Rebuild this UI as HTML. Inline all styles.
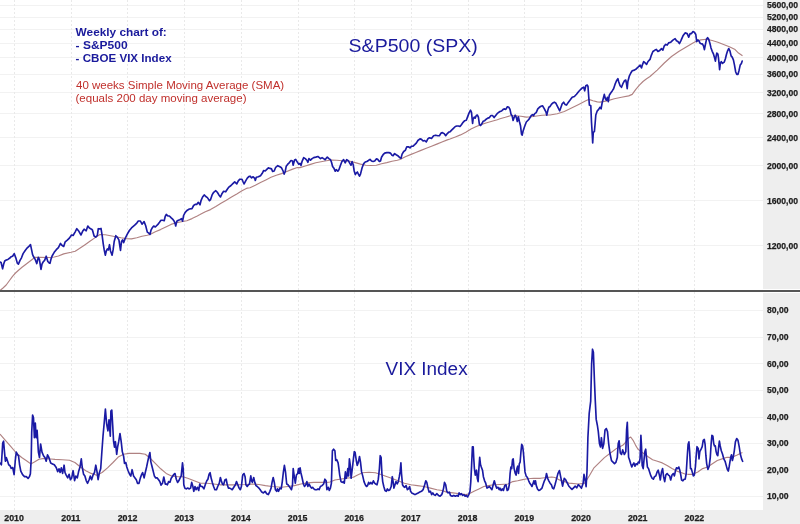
<!DOCTYPE html>
<html><head><meta charset="utf-8"><title>S&amp;P500 and VIX weekly chart</title>
<style>html,body{margin:0;padding:0;background:#fff;}svg{display:block;font-family:"Liberation Sans",sans-serif;will-change:transform;}</style>
</head><body>
<svg width="800" height="524" viewBox="0 0 800 524">
<rect x="0" y="0" width="800" height="524" fill="#ffffff"/>
<rect x="763" y="0" width="37" height="524" fill="#eeeeee"/>
<rect x="0" y="510" width="800" height="14" fill="#eeeeee"/>
<g stroke="#f2f2f2" stroke-width="1"><line x1="0" y1="5.5" x2="763" y2="5.5"/><line x1="0" y1="17.5" x2="763" y2="17.5"/><line x1="0" y1="29.5" x2="763" y2="29.5"/><line x1="0" y1="43.5" x2="763" y2="43.5"/><line x1="0" y1="57.5" x2="763" y2="57.5"/><line x1="0" y1="74.5" x2="763" y2="74.5"/><line x1="0" y1="92.5" x2="763" y2="92.5"/><line x1="0" y1="113.5" x2="763" y2="113.5"/><line x1="0" y1="137.5" x2="763" y2="137.5"/><line x1="0" y1="165.5" x2="763" y2="165.5"/><line x1="0" y1="200.5" x2="763" y2="200.5"/><line x1="0" y1="245.5" x2="763" y2="245.5"/><line x1="0" y1="310.5" x2="763" y2="310.5"/><line x1="0" y1="337.5" x2="763" y2="337.5"/><line x1="0" y1="363.5" x2="763" y2="363.5"/><line x1="0" y1="390.5" x2="763" y2="390.5"/><line x1="0" y1="417.5" x2="763" y2="417.5"/><line x1="0" y1="443.5" x2="763" y2="443.5"/><line x1="0" y1="470.5" x2="763" y2="470.5"/><line x1="0" y1="496.5" x2="763" y2="496.5"/></g>
<g stroke="#e9e9e9" stroke-width="1" stroke-dasharray="2,2"><line x1="14.5" y1="0" x2="14.5" y2="510"/><line x1="71.5" y1="0" x2="71.5" y2="510"/><line x1="127.5" y1="0" x2="127.5" y2="510"/><line x1="184.5" y1="0" x2="184.5" y2="510"/><line x1="241.5" y1="0" x2="241.5" y2="510"/><line x1="298.5" y1="0" x2="298.5" y2="510"/><line x1="354.5" y1="0" x2="354.5" y2="510"/><line x1="411.5" y1="0" x2="411.5" y2="510"/><line x1="468.5" y1="0" x2="468.5" y2="510"/><line x1="524.5" y1="0" x2="524.5" y2="510"/><line x1="581.5" y1="0" x2="581.5" y2="510"/><line x1="638.5" y1="0" x2="638.5" y2="510"/><line x1="694.5" y1="0" x2="694.5" y2="510"/></g>
<polyline fill="none" stroke="#b08282" stroke-width="1.15" stroke-linejoin="round" points="0.0,290.5 3.0,288.0 6.2,285.0 9.5,280.5 12.5,276.3 15.5,273.0 18.8,270.0 22.0,267.3 25.0,265.0 31.5,260.0 35.0,257.3 40.0,257.3 50.0,257.5 54.2,257.0 58.4,256.0 63.7,253.9 71.0,252.3 75.2,251.2 79.4,248.6 84.7,245.0 89.9,241.3 95.2,237.6 100.0,234.6 105.3,234.7 110.5,235.7 115.8,236.8 121.0,237.8 126.3,238.6 131.5,238.9 136.8,237.8 142.0,236.3 147.3,235.2 150.0,234.5 155.3,231.7 160.5,229.6 165.8,227.0 171.0,224.4 176.3,222.8 181.5,221.8 186.8,220.7 192.0,218.6 197.3,216.0 200.0,214.6 205.3,211.7 210.5,209.6 215.8,206.5 221.0,203.3 226.3,200.2 231.5,197.0 236.8,193.9 242.0,190.7 247.3,188.1 250.0,187.7 255.3,185.2 260.5,182.5 265.8,179.9 271.0,177.3 276.3,175.2 281.5,173.6 286.8,171.5 292.0,169.4 297.3,167.5 300.0,167.6 305.3,166.0 310.5,164.4 315.8,162.8 321.0,161.8 326.3,160.7 331.5,160.0 336.8,160.2 342.0,160.7 347.3,160.9 350.0,161.2 355.3,162.6 360.5,164.1 365.8,165.2 371.0,165.5 376.3,165.2 381.5,163.8 386.8,162.6 392.0,161.3 397.3,160.3 400.0,159.5 405.3,156.7 410.5,154.6 415.8,152.5 421.0,150.4 426.3,148.3 431.5,146.2 436.8,144.1 442.0,142.0 447.3,139.9 450.0,139.0 455.3,137.0 460.5,134.9 465.8,132.3 471.0,129.1 476.3,126.5 481.5,124.4 486.8,122.8 492.0,121.3 497.3,119.7 500.0,118.8 505.3,117.3 510.5,115.7 515.8,115.7 521.0,116.3 526.3,117.1 531.5,116.8 536.8,116.0 542.0,115.2 547.3,115.0 550.0,115.0 557.2,113.7 564.3,111.5 571.5,108.0 578.7,104.4 585.8,100.8 588.7,99.4 593.0,100.8 597.3,101.9 600.0,102.1 607.2,100.9 614.3,98.7 621.5,97.3 628.7,95.9 632.2,94.4 635.8,89.4 639.4,85.1 643.0,81.5 646.6,78.7 650.0,76.5 657.2,70.1 664.3,63.0 671.5,56.5 678.7,51.5 685.8,47.2 693.0,42.9 695.8,41.5 700.7,39.9 706.5,39.3 712.2,40.5 717.9,42.2 723.6,44.5 729.4,46.8 735.1,49.6 738.5,53.1 742.5,55.7"/>
<polyline fill="none" stroke="#b08282" stroke-width="1.15" stroke-linejoin="round" points="0.0,434.0 5.4,440.3 10.9,446.7 16.3,453.0 21.7,457.5 27.2,461.2 30.8,463.9 34.4,462.1 39.0,459.3 44.4,458.4 50.7,459.0 55.0,459.4 62.2,459.8 69.5,460.3 74.9,462.5 80.4,467.0 85.8,470.7 91.2,473.4 96.7,475.2 102.1,472.5 107.5,467.9 113.0,462.5 118.2,457.1 123.6,454.3 129.0,453.4 134.5,453.4 139.9,453.4 145.3,454.3 149.9,458.0 155.3,463.4 160.7,468.8 166.2,473.4 171.5,475.9 178.0,476.7 182.8,476.7 187.7,478.3 194.2,480.8 200.7,483.2 207.1,483.2 213.6,484.0 220.1,484.8 226.5,484.8 233.0,484.8 239.4,484.8 245.9,484.5 252.4,484.0 258.9,484.5 265.4,485.6 271.9,486.5 281.5,487.3 288.0,486.5 294.4,485.6 300.9,484.0 307.4,482.9 313.9,482.4 320.4,482.4 326.9,482.4 330.0,482.0 334.9,480.0 339.7,479.2 346.2,478.3 352.7,477.5 357.6,475.1 362.4,472.7 368.9,472.2 375.4,472.7 380.2,474.3 385.1,476.0 391.5,478.3 398.0,480.8 404.4,483.2 410.9,484.8 417.4,485.6 423.9,486.5 430.4,488.1 436.9,489.7 442.0,490.5 446.5,492.1 453.0,492.9 459.4,493.7 465.9,494.6 469.2,493.7 474.0,491.3 478.9,488.9 483.8,486.5 488.6,485.6 493.5,484.8 500.0,484.5 508.0,484.0 512.8,481.6 517.7,480.8 522.6,479.6 527.4,478.7 533.9,478.3 540.4,478.3 546.9,477.5 551.7,477.0 555.0,477.5 559.4,479.9 568.9,483.1 578.3,484.0 584.6,483.3 589.2,476.0 593.7,468.2 598.3,463.7 604.4,457.6 610.5,453.0 616.6,448.4 622.7,445.3 625.0,443.0 628.2,438.6 630.7,437.0 633.1,440.3 635.5,445.1 638.0,449.2 641.2,451.6 644.4,454.0 647.7,456.5 652.6,459.7 657.4,461.3 662.3,462.9 667.1,465.4 672.0,468.6 676.9,471.1 681.7,472.7 685.0,474.0 688.1,474.3 693.0,474.3 697.8,471.9 702.7,468.6 707.6,467.0 712.4,463.8 717.3,460.5 722.1,458.9 727.0,457.3 731.9,457.3 736.7,455.3 742.4,452.4"/>
<polyline fill="none" stroke="#1a1aa4" stroke-width="1.65" stroke-linejoin="round" stroke-linecap="round" points="0.0,262.0 1.1,262.5 2.6,268.8 3.7,264.1 4.7,261.0 6.3,260.0 7.9,259.4 9.5,258.3 11.0,256.8 12.6,256.2 14.2,253.6 15.8,257.8 17.3,263.1 18.4,264.1 20.0,260.4 21.5,257.8 23.1,253.6 25.2,250.5 27.3,247.8 28.9,246.3 30.5,244.7 31.5,249.4 32.6,254.7 33.6,256.8 35.2,259.4 36.8,263.6 38.3,257.3 39.4,259.4 41.0,269.4 42.0,264.1 43.1,262.0 44.6,260.4 46.2,256.2 47.8,261.5 49.4,263.1 50.0,263.3 51.0,259.1 52.1,256.0 54.2,252.3 56.3,249.7 58.4,247.6 60.5,243.4 61.6,245.0 63.7,246.5 65.2,241.8 67.3,240.2 69.4,238.1 71.5,235.0 73.1,235.5 75.2,231.8 76.8,228.7 78.9,231.3 81.0,235.0 82.6,231.3 84.1,229.2 86.2,230.8 87.8,226.0 89.4,228.1 91.5,229.2 92.5,230.2 94.1,236.0 95.7,237.1 97.3,235.5 98.3,228.7 100.0,228.9 101.0,228.4 102.1,235.2 103.2,243.6 104.2,249.9 105.3,255.2 106.3,251.0 107.4,248.9 108.4,249.9 109.5,244.7 110.5,251.0 112.1,255.2 113.1,249.9 114.2,241.5 115.8,235.7 117.3,237.3 118.9,239.9 120.5,250.4 121.5,241.5 122.6,239.9 123.6,242.6 125.2,238.4 127.3,234.2 129.4,230.5 131.5,227.9 134.7,225.2 136.8,223.1 138.3,221.0 140.4,221.0 142.0,224.2 144.1,221.6 145.7,225.8 147.3,232.1 148.8,233.1 150.0,234.4 151.0,230.2 152.1,228.1 153.7,226.0 155.3,227.0 156.3,226.0 157.9,224.4 159.5,222.3 161.0,220.2 162.6,220.2 164.2,220.7 165.2,216.5 166.3,214.4 167.9,216.0 169.4,216.0 171.0,217.6 172.6,219.1 174.2,221.2 175.2,223.9 175.7,226.0 176.8,221.2 178.4,220.2 179.9,219.7 181.5,218.6 182.6,221.2 183.6,215.5 185.2,212.3 187.3,210.2 189.4,209.0 192.0,208.6 193.6,205.5 195.2,204.4 196.7,204.4 198.3,202.3 200.0,204.9 201.0,200.7 202.6,197.0 204.2,194.9 205.8,196.5 207.4,197.6 209.5,200.7 210.5,199.7 212.1,194.9 213.7,192.3 215.8,190.7 217.3,192.3 218.9,194.9 220.5,197.0 222.1,193.4 223.6,191.3 225.7,191.8 227.3,189.2 228.9,187.1 231.0,185.5 232.6,183.9 234.7,181.8 236.8,183.9 238.3,180.8 239.9,179.2 242.0,179.2 243.1,181.8 244.1,183.9 245.7,180.8 247.3,178.1 248.8,176.6 250.0,176.2 251.6,177.8 253.2,176.8 254.7,178.3 255.3,180.4 256.3,177.3 258.4,176.8 260.5,175.7 262.1,173.6 263.7,170.5 265.2,171.0 266.8,169.4 268.4,167.8 270.0,168.4 271.5,168.9 272.6,171.5 274.2,171.0 275.7,167.3 277.8,165.7 279.9,166.8 281.5,167.8 283.1,171.0 284.1,174.1 285.2,171.5 286.2,166.3 287.8,164.2 289.4,162.6 291.0,160.5 292.5,161.0 293.1,165.2 294.6,160.0 295.7,159.4 297.3,162.1 298.8,164.2 300.0,163.4 301.0,165.5 302.1,161.3 303.7,157.6 305.3,158.6 306.8,160.2 307.9,162.3 308.9,158.6 310.5,160.2 312.1,158.6 313.7,157.6 315.8,157.1 317.9,156.5 319.4,157.6 320.5,158.6 322.1,157.6 323.6,158.6 325.2,159.7 326.3,158.1 327.3,157.1 328.9,158.6 330.5,159.7 331.5,162.3 332.6,166.5 334.1,168.6 335.2,171.2 336.2,169.7 337.8,171.2 338.9,169.7 340.4,165.5 342.0,161.3 343.6,159.7 345.2,162.8 346.7,159.7 348.3,160.7 350.0,163.6 351.0,165.2 352.1,161.5 353.2,164.7 354.2,171.0 355.3,174.6 356.3,173.1 357.4,172.0 358.4,174.1 359.5,176.2 360.5,174.1 362.1,167.8 363.7,163.6 365.2,162.0 366.8,161.5 368.4,160.5 370.0,159.4 371.5,161.0 373.1,161.5 374.7,161.0 376.3,158.9 377.8,159.4 379.4,161.5 380.5,161.0 381.5,157.3 383.1,154.7 384.7,153.1 386.8,152.6 388.9,152.6 390.4,153.1 392.0,155.2 393.1,155.7 394.6,153.6 396.2,154.7 397.8,155.7 400.0,157.8 401.0,158.3 402.1,154.1 403.7,151.5 405.3,150.4 406.8,146.8 408.4,146.8 410.0,147.8 411.6,146.2 413.1,146.2 414.7,144.7 416.3,143.1 417.9,140.5 420.0,138.9 421.5,139.4 423.1,141.0 424.7,140.5 426.3,142.0 427.8,138.9 429.4,137.8 431.5,138.4 433.6,135.7 435.7,135.2 437.8,135.7 439.4,135.7 441.0,133.1 442.5,132.6 444.1,133.6 445.7,135.7 447.3,133.6 448.8,132.1 450.0,131.8 451.6,130.2 453.2,128.6 455.3,126.5 456.8,126.0 458.4,126.0 460.0,126.5 461.6,124.4 463.1,122.3 464.7,120.7 466.3,120.2 467.3,117.6 468.9,113.4 470.5,110.2 471.5,112.3 472.6,123.4 473.1,119.2 474.2,117.1 475.2,118.1 476.3,115.5 477.3,115.0 478.4,117.1 479.4,124.4 480.5,125.5 481.5,124.4 483.1,121.3 484.7,120.7 486.2,119.2 487.8,118.1 489.4,117.6 491.0,115.5 492.5,115.5 494.1,117.6 495.7,115.5 497.3,113.4 498.8,112.3 500.0,111.5 501.6,111.0 503.2,109.4 504.7,108.9 505.8,109.4 507.4,106.8 508.9,107.3 510.0,109.4 511.0,114.2 512.1,115.7 513.1,120.5 514.2,117.3 515.2,115.2 516.3,117.3 517.3,121.5 518.4,116.8 519.4,121.5 520.5,125.7 521.5,134.1 522.1,135.2 523.1,131.0 524.7,126.2 526.3,122.0 527.8,120.5 528.9,119.4 529.9,117.8 531.5,115.2 532.6,114.7 533.6,115.7 534.7,113.6 536.2,112.6 537.8,108.9 539.4,107.3 541.0,106.3 542.5,105.8 544.1,108.4 545.2,110.5 546.2,112.6 546.7,115.2 547.8,110.5 548.8,107.3 550.0,106.5 551.4,104.4 552.9,102.9 554.3,102.2 555.7,102.9 557.2,105.8 558.6,108.7 559.7,110.8 560.7,108.0 562.2,103.7 563.6,102.2 565.0,104.4 566.5,105.1 567.9,102.9 570.1,100.1 572.2,97.2 574.4,96.5 576.5,94.3 578.7,91.5 580.8,89.3 582.2,87.9 583.7,87.2 584.7,90.8 585.8,85.7 587.2,85.0 588.0,86.5 588.7,96.5 589.4,105.1 590.8,105.8 591.5,122.3 592.3,135.2 592.7,143.0 593.3,132.3 594.4,131.6 595.1,123.7 595.8,115.1 597.3,110.8 598.7,109.4 600.0,107.3 601.1,108.8 602.1,103.0 603.6,97.3 604.3,94.4 605.4,98.7 606.4,100.2 607.4,97.3 608.3,101.6 609.3,95.2 610.7,93.0 612.2,90.9 613.6,88.7 615.0,84.4 616.5,80.8 617.9,78.7 618.6,81.5 620.1,85.8 621.5,87.3 622.9,83.7 624.4,80.8 625.8,80.1 626.5,83.7 627.2,88.7 627.9,81.5 629.4,75.8 630.8,73.0 632.2,70.8 634.4,70.1 636.5,68.7 638.7,66.5 640.1,65.1 641.5,67.9 642.3,65.1 643.7,61.5 645.1,62.9 646.6,64.4 648.0,61.5 650.0,59.4 651.4,55.1 652.9,51.5 655.0,50.1 656.4,49.4 657.9,51.5 659.3,50.8 661.5,48.7 662.9,50.1 664.3,45.8 665.8,44.4 667.2,45.1 668.6,42.9 670.8,42.2 672.9,40.1 675.1,38.6 676.5,40.8 677.9,41.5 679.4,43.6 680.8,40.8 683.0,35.8 685.1,32.9 687.2,33.6 688.7,37.2 690.1,33.6 691.5,33.6 693.0,31.5 694.4,32.2 695.8,34.5 696.7,41.6 697.9,39.9 699.0,41.0 700.2,43.3 701.3,43.9 702.4,43.9 703.6,46.2 704.4,49.6 705.3,45.0 706.5,39.3 707.6,37.6 708.7,39.3 709.9,43.3 711.0,47.9 712.2,51.3 713.3,53.6 714.5,57.6 715.4,61.1 716.2,55.9 716.8,53.1 717.9,54.2 718.5,58.2 719.1,63.9 719.6,69.7 720.4,62.8 721.3,61.7 722.5,63.4 724.2,62.2 725.4,58.8 726.5,54.2 727.6,50.8 728.8,48.5 729.9,50.8 731.1,55.9 732.2,57.1 733.4,59.9 734.5,65.1 735.7,72.0 736.8,74.3 738.0,74.3 739.1,70.2 740.2,65.1 741.4,63.4 742.2,61.1"/>
<polyline fill="none" stroke="#1a1aa4" stroke-width="1.65" stroke-linejoin="round" stroke-linecap="round" points="0.0,463.0 1.4,464.8 2.7,443.0 3.6,441.2 4.5,452.1 5.4,461.2 6.3,457.5 7.6,461.2 8.7,464.8 10.0,465.7 11.2,468.4 12.7,467.5 14.1,474.7 15.4,459.3 16.3,452.1 17.6,454.8 18.5,455.7 19.6,464.8 20.8,471.1 22.6,474.7 24.5,476.6 26.3,476.6 28.1,478.4 29.5,476.6 30.4,473.8 31.2,459.3 31.7,432.2 32.6,415.0 33.5,417.7 34.4,437.6 35.3,423.1 36.2,437.6 37.1,430.4 38.4,452.1 39.5,457.5 40.6,444.0 42.0,452.1 43.5,455.7 44.9,457.5 46.2,461.2 47.5,454.8 48.9,457.5 50.7,463.0 52.5,463.9 54.3,464.8 56.2,467.5 57.7,471.6 59.0,468.8 60.1,472.5 61.3,467.9 62.6,473.4 64.1,465.2 65.0,472.5 66.2,475.2 67.7,477.9 69.1,474.3 70.4,479.7 71.7,477.9 73.1,470.7 74.6,480.6 75.8,476.1 77.3,477.9 78.6,471.6 80.0,467.0 81.3,458.9 82.2,467.0 83.6,474.3 84.9,476.1 86.2,480.6 87.6,483.3 89.1,479.7 90.3,476.1 91.6,479.7 93.0,475.2 94.5,472.5 95.8,465.2 97.0,471.6 98.1,479.7 99.4,472.5 100.7,468.8 101.7,454.3 103.0,436.2 104.3,421.7 105.4,409.1 106.6,423.6 107.9,430.8 109.0,419.9 110.3,436.2 110.9,411.0 111.8,410.0 112.7,425.4 113.6,441.7 114.5,447.1 115.4,441.7 116.7,454.3 117.6,447.1 118.7,441.7 120.0,433.5 121.2,441.7 122.3,451.6 123.6,456.2 124.5,463.4 125.8,462.5 126.8,467.0 128.1,470.7 129.6,474.3 130.8,476.1 132.1,469.7 133.6,476.1 135.0,477.9 136.3,479.7 137.5,483.3 139.0,483.3 140.4,477.9 141.7,474.3 142.6,472.5 144.1,477.9 145.3,472.5 146.6,467.0 147.7,461.6 148.9,456.2 149.9,452.5 150.8,461.6 151.7,465.2 153.1,470.7 154.4,476.1 155.7,477.9 157.1,477.9 158.6,479.7 159.8,481.5 161.1,485.1 162.5,483.3 163.8,477.0 165.3,484.2 166.3,484.0 167.4,484.8 168.6,481.6 169.9,482.4 171.2,478.3 172.3,476.7 173.9,474.3 175.0,473.5 176.3,479.2 177.6,482.4 178.8,480.8 179.9,478.3 181.2,475.9 182.5,462.9 183.2,468.6 183.8,484.8 184.8,488.1 186.1,488.9 187.7,488.1 189.3,488.9 190.6,488.1 191.7,482.4 192.9,486.5 193.8,491.3 195.0,486.5 196.1,489.7 197.4,487.3 198.7,490.5 199.8,484.0 201.0,486.5 202.3,486.5 203.9,488.9 205.5,484.0 206.8,480.8 207.9,479.2 209.1,474.3 210.1,472.7 211.2,478.3 212.3,482.4 213.6,486.5 214.9,489.7 216.5,489.7 217.7,486.5 219.3,483.2 220.4,477.5 221.3,480.8 222.4,484.0 223.6,484.8 224.9,480.0 226.2,479.2 227.3,484.8 228.4,488.1 229.7,488.1 231.0,488.9 232.2,489.7 233.8,487.3 235.4,484.8 236.5,481.6 237.8,484.8 239.1,488.1 240.3,489.7 241.4,486.5 242.7,475.1 244.0,473.5 245.1,476.7 245.9,484.8 247.2,486.5 248.4,484.8 249.5,484.0 250.8,475.9 251.6,480.8 252.4,482.4 253.7,477.5 254.8,482.4 256.0,485.6 257.3,486.5 258.9,488.1 260.2,489.7 261.8,492.1 263.4,492.9 265.1,491.3 266.7,493.7 268.3,494.6 269.9,491.3 271.1,488.1 272.2,481.6 273.2,477.5 274.3,482.4 275.4,489.7 276.7,491.3 277.4,488.9 278.6,491.3 279.9,488.1 281.2,488.9 282.3,481.6 283.4,471.9 284.4,465.4 285.5,471.9 286.7,484.0 288.0,484.8 289.3,486.5 290.4,488.1 291.5,489.7 292.5,484.8 293.2,468.6 294.1,475.1 295.3,483.2 296.4,475.1 297.7,473.5 298.5,468.6 299.3,473.5 300.1,467.8 300.9,472.7 302.2,478.3 303.4,484.0 304.5,486.5 305.8,484.8 306.9,481.6 307.9,486.5 309.0,484.0 310.3,486.5 311.5,488.1 312.6,487.3 313.9,488.9 315.2,489.7 316.8,489.7 318.0,488.9 319.1,489.7 320.4,486.5 322.0,485.6 323.6,484.0 324.9,479.2 326.1,480.8 326.9,489.7 328.2,487.3 329.3,490.5 330.4,488.1 331.4,483.2 332.4,450.8 333.6,449.2 334.9,450.8 335.7,460.5 336.8,459.7 338.1,462.9 338.9,468.6 339.7,475.1 341.0,481.6 342.2,482.4 343.3,481.6 344.3,483.2 345.4,471.9 346.2,478.3 347.0,475.9 347.8,468.6 348.6,475.9 349.4,458.9 350.3,465.4 351.1,478.3 351.9,471.9 352.7,465.4 353.5,458.1 354.3,451.6 355.1,452.4 356.3,460.5 357.2,465.4 358.4,462.1 359.5,456.5 360.5,462.1 361.6,471.9 362.7,475.9 364.0,481.6 365.3,484.8 366.5,486.5 367.6,485.6 368.6,482.4 369.7,484.0 370.8,482.4 372.1,484.0 373.4,480.8 374.6,483.2 375.7,484.0 377.0,484.8 378.3,479.2 379.4,468.6 380.2,455.7 381.1,457.3 381.9,473.5 382.7,481.6 383.8,486.5 385.0,490.5 386.3,491.3 387.4,488.9 388.6,490.5 389.9,489.7 391.2,486.5 392.3,476.7 393.1,481.6 393.9,488.1 395.0,484.8 396.0,481.6 397.2,484.0 398.3,481.6 399.3,476.7 400.1,471.9 400.9,462.9 401.5,473.5 402.5,484.8 403.6,486.5 404.8,487.3 406.1,485.6 407.4,489.7 408.5,488.9 409.6,486.5 410.6,491.3 411.7,492.9 413.4,493.7 415.0,494.6 416.6,493.7 418.2,492.9 419.8,492.1 421.5,491.3 423.1,489.7 424.7,484.8 425.8,480.8 426.8,482.4 428.0,488.1 429.1,492.1 430.4,491.3 431.7,494.6 432.8,492.9 433.9,494.6 435.2,495.4 436.9,493.7 438.5,495.4 440.1,496.2 441.7,494.6 442.4,492.9 443.6,488.1 444.5,482.4 445.7,484.8 446.8,491.3 448.1,492.9 449.4,492.1 450.5,495.4 452.2,496.2 453.8,495.4 455.4,496.2 457.0,495.4 458.2,496.2 459.1,492.9 460.3,494.6 461.4,493.7 462.7,495.4 464.0,494.6 465.1,496.2 466.3,495.4 467.6,497.0 468.8,494.6 470.0,491.3 470.8,481.6 471.6,465.4 472.4,446.7 473.2,446.7 473.7,457.3 474.4,468.6 475.3,475.1 476.5,470.2 477.3,478.3 478.1,481.6 478.9,468.6 479.7,457.3 480.5,464.6 481.3,467.0 482.5,470.2 483.4,476.7 484.6,480.8 485.7,483.2 487.0,488.1 488.3,487.3 489.4,486.5 490.6,488.1 491.9,489.7 493.2,484.8 494.3,480.8 495.4,484.8 496.7,488.1 498.0,487.3 499.2,489.7 499.9,488.1 501.2,490.5 502.3,488.9 503.4,490.5 504.7,485.6 506.0,484.8 507.2,490.5 508.3,489.7 509.3,484.8 510.1,473.5 510.9,467.0 511.7,468.6 512.5,459.7 513.2,458.9 514.1,468.6 515.3,473.5 516.1,475.1 516.9,468.6 517.7,466.2 518.5,473.5 519.3,463.8 520.1,462.1 520.9,452.4 521.7,444.3 522.6,445.9 523.4,452.4 524.2,462.1 525.0,471.9 526.1,475.9 527.4,477.5 528.7,480.8 529.8,483.2 531.0,484.8 532.0,486.5 533.1,483.2 533.9,480.8 534.7,484.0 535.5,480.8 536.3,485.6 537.5,488.9 538.8,490.5 540.4,489.7 542.0,488.1 543.3,484.0 544.4,480.8 545.6,478.3 546.5,473.5 547.7,478.3 548.8,480.8 550.1,483.2 551.4,484.8 552.5,488.1 553.7,488.9 555.0,484.8 556.3,479.9 557.9,473.6 559.4,470.5 561.0,478.4 562.6,486.2 564.2,478.4 565.7,479.9 567.3,483.1 568.9,486.2 570.4,487.8 572.0,489.4 573.6,487.8 575.2,486.2 576.7,487.8 578.3,484.7 579.9,486.2 581.5,488.1 583.1,483.5 584.0,474.4 585.2,480.5 586.1,486.6 587.0,471.3 587.9,437.7 589.2,413.3 590.7,401.1 591.6,364.4 592.5,349.2 593.4,352.2 594.4,379.7 595.3,401.1 596.2,419.4 597.4,425.5 598.3,431.6 599.5,443.8 600.5,446.9 601.4,437.7 602.6,448.4 603.8,443.8 605.0,430.1 606.3,428.5 607.5,431.6 608.7,443.8 609.9,453.0 611.5,460.6 613.0,462.1 614.5,463.7 616.0,462.1 617.3,457.6 618.2,443.8 619.1,440.8 620.3,453.0 621.5,454.5 622.7,449.9 624.3,454.5 625.8,451.6 626.6,429.7 627.3,422.4 627.9,439.4 628.6,457.3 629.5,459.7 630.7,463.8 631.8,467.0 632.8,464.6 633.9,462.9 635.0,466.2 636.0,463.8 637.2,464.6 638.3,462.1 639.3,462.9 640.1,458.1 640.9,435.4 641.5,445.9 642.2,465.4 643.2,468.6 644.1,458.9 644.9,451.6 645.7,449.2 646.6,458.9 647.4,467.0 648.5,468.6 649.6,471.9 650.9,475.9 652.2,478.3 653.4,479.2 654.5,476.7 655.8,475.9 657.1,471.9 658.2,470.2 659.4,475.1 660.3,480.0 661.5,471.9 662.6,468.6 663.6,476.7 664.7,481.6 665.8,475.1 667.1,473.5 668.4,475.1 669.6,475.9 670.7,480.0 672.0,475.1 673.3,473.5 674.4,475.9 675.6,470.2 676.5,467.8 677.7,468.6 678.8,467.0 679.8,470.2 680.8,475.1 681.6,480.0 682.9,480.8 684.1,479.2 685.2,479.2 686.2,473.5 687.3,455.7 688.1,444.3 688.9,441.9 689.7,452.4 690.5,468.6 691.3,468.6 692.2,471.9 693.3,475.9 694.3,475.1 695.4,467.0 696.2,455.7 697.0,446.7 698.2,448.4 699.0,458.9 699.8,451.6 701.1,449.2 702.2,446.7 703.2,440.3 704.3,439.4 705.1,444.3 705.9,455.7 706.7,463.8 707.9,469.4 709.2,466.2 710.3,457.3 711.1,444.3 711.9,435.4 712.9,436.2 713.7,443.5 714.5,445.9 715.3,445.9 716.1,451.6 717.0,454.8 717.8,455.7 718.6,447.6 719.4,441.1 720.2,445.9 721.3,450.8 722.5,454.0 723.8,458.9 725.1,461.3 726.2,465.4 727.3,469.4 728.3,471.1 729.1,467.0 729.9,462.1 730.7,457.3 731.5,454.8 732.4,460.5 733.2,457.3 734.3,450.8 735.4,441.9 736.7,438.6 738.0,440.3 739.2,446.7 740.3,454.0 741.6,458.9 742.6,461.3"/>
<rect x="763" y="289" width="37" height="4" fill="#ffffff"/>
<rect x="0" y="290" width="800" height="2" fill="#555555"/>
<g font-family="Liberation Sans" font-weight="bold" font-size="8.6" fill="#1e1e1e" stroke="#1e1e1e" stroke-width="0.25"><text x="767" y="8.1">5600,00</text><text x="767" y="19.7">5200,00</text><text x="767" y="32.2">4800,00</text><text x="767" y="45.8">4400,00</text><text x="767" y="60.8">4000,00</text><text x="767" y="77.2">3600,00</text><text x="767" y="95.7">3200,00</text><text x="767" y="116.6">2800,00</text><text x="767" y="140.7">2400,00</text><text x="767" y="169.2">2000,00</text><text x="767" y="204.1">1600,00</text><text x="767" y="249.2">1200,00</text><text x="767" y="313.3">80,00</text><text x="767" y="339.9">70,00</text><text x="767" y="366.5">60,00</text><text x="767" y="393.1">50,00</text><text x="767" y="419.6">40,00</text><text x="767" y="446.2">30,00</text><text x="767" y="472.8">20,00</text><text x="767" y="499.3">10,00</text></g>
<g font-family="Liberation Sans" font-weight="bold" font-size="8.8" fill="#1e1e1e" stroke="#1e1e1e" stroke-width="0.25"><text x="14.1" y="521.2" text-anchor="middle">2010</text><text x="70.8" y="521.2" text-anchor="middle">2011</text><text x="127.5" y="521.2" text-anchor="middle">2012</text><text x="184.2" y="521.2" text-anchor="middle">2013</text><text x="240.9" y="521.2" text-anchor="middle">2014</text><text x="297.6" y="521.2" text-anchor="middle">2015</text><text x="354.2" y="521.2" text-anchor="middle">2016</text><text x="410.9" y="521.2" text-anchor="middle">2017</text><text x="467.6" y="521.2" text-anchor="middle">2018</text><text x="524.3" y="521.2" text-anchor="middle">2019</text><text x="581.0" y="521.2" text-anchor="middle">2020</text><text x="637.7" y="521.2" text-anchor="middle">2021</text><text x="694.4" y="521.2" text-anchor="middle">2022</text></g>
<g font-family="Liberation Sans" font-weight="bold" font-size="11.5" fill="#1a1a9c" lengthAdjust="spacingAndGlyphs"><text x="75.6" y="35.5" textLength="91.2" lengthAdjust="spacingAndGlyphs">Weekly chart of:</text><text x="75.6" y="48.8" textLength="52" lengthAdjust="spacingAndGlyphs">- S&amp;P500</text><text x="75.6" y="61.7" textLength="96" lengthAdjust="spacingAndGlyphs">- CBOE VIX Index</text></g>
<g font-family="Liberation Sans" font-size="11" fill="#c0302c"><text x="76" y="89.3" textLength="208.2" lengthAdjust="spacingAndGlyphs">40 weeks Simple Moving Average (SMA)</text><text x="75.5" y="102" textLength="171" lengthAdjust="spacingAndGlyphs">(equals 200 day moving average)</text></g>
<g font-family="Liberation Sans" font-size="18" fill="#1a1a9c"><text x="348.6" y="51.6" textLength="129.2" lengthAdjust="spacingAndGlyphs">S&amp;P500 (SPX)</text><text x="385.6" y="375.2" textLength="82" lengthAdjust="spacingAndGlyphs">VIX Index</text></g>
</svg>
</body></html>
